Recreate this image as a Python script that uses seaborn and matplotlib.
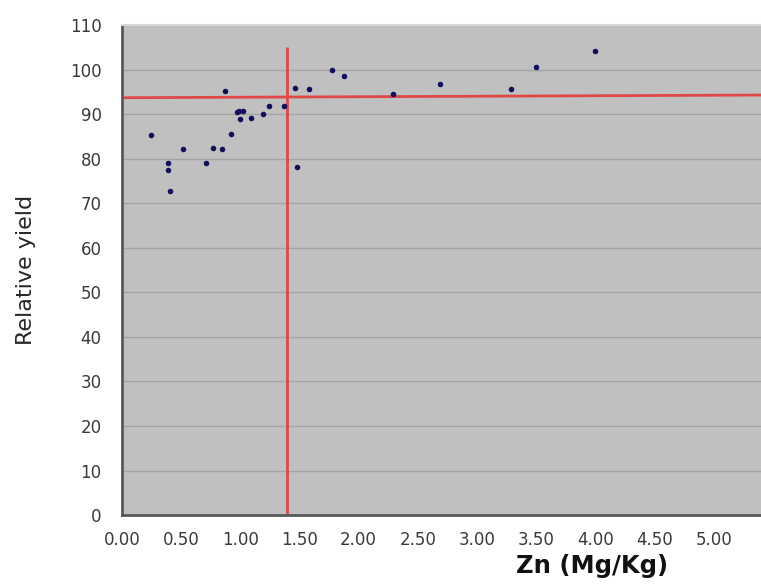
import matplotlib
matplotlib.use("Agg")
import matplotlib.pyplot as plt
import seaborn as sns
import pandas as pd

# valeurs
zn = [0.25, 0.39, 0.39, 0.41, 0.52, 0.71, 0.77, 0.85, 0.87, 0.92,
      0.97, 0.99, 1.02, 1.00, 1.09, 1.19, 1.24, 1.37, 1.46, 1.48,
      1.58, 1.78, 1.88, 2.29, 2.69, 3.29, 3.50, 4.00]
rel_yield = [85.3, 79.1, 77.5, 72.8, 82.2, 79.1, 82.4, 82.2, 95.3, 85.5,
             90.5, 90.7, 90.7, 89.0, 89.2, 90.0, 91.8, 91.9, 95.8, 78.1,
             95.6, 99.9, 98.6, 94.5, 96.8, 95.7, 100.7, 104.1]

# niveaux critiques (lignes rouges)
critical_zn = 1.40
critical_zn_top = 105
critical_yield = [93.7, 94.3]

x_ticks = [0.0, 0.5, 1.0, 1.5, 2.0, 2.5, 3.0, 3.5, 4.0, 4.5, 5.0]
y_ticks = list(range(0, 111, 10))
x_max = 5.40

df = pd.DataFrame({"Zn": zn, "Yield": rel_yield})

sns.set_style("white")
plt.rcParams['font.family'] = ['DejaVu Sans']

fig = plt.figure(figsize=(7.61, 5.84), dpi=100)
ax = fig.add_axes([0.16, 0.118, 0.84, 0.839])
ax.set_facecolor('#c0c0c0')

for y in y_ticks[1:]:
    ax.axhline(y, color='#a4a4a4', lw=1.0, zorder=1)

ax.plot([0, x_max], critical_yield, color='#e04848', lw=2, zorder=2)
ax.vlines(critical_zn, 0, critical_zn_top, color='#e04848', lw=2, zorder=2)

sns.scatterplot(data=df, x="Zn", y="Yield", ax=ax, color='#10105a',
                s=16, edgecolor='#10105a', linewidth=0, zorder=3)

ax.set_xlim(0, x_max)
ax.set_ylim(0, 110)
ax.set_xticks(x_ticks)
ax.set_xticklabels([f"{v:.2f}" for v in x_ticks])
ax.set_yticks(y_ticks)

for side in ['left', 'bottom']:
    ax.spines[side].set_color('#585858')
    ax.spines[side].set_linewidth(2)
ax.spines['top'].set_color('#d8d8d8')
ax.spines['top'].set_linewidth(1.5)
ax.spines['right'].set_visible(False)

ax.tick_params(axis='both', direction='out', length=4.5, width=1.2,
               color='#707070', labelsize=12, labelcolor='#3a3a3a')
ax.tick_params(axis='y', pad=10)
ax.tick_params(axis='x', pad=7)

ax.set_xlabel("Zn (Mg/Kg)", fontsize=17.5, fontweight='bold', color='#111111')
ax.xaxis.set_label_coords(0.736, -0.08)
ax.set_ylabel("Relative yield", fontsize=16, color='#262626')
ax.yaxis.set_label_coords(-0.134, 0.5)

fig.savefig("out.png", dpi=100)
